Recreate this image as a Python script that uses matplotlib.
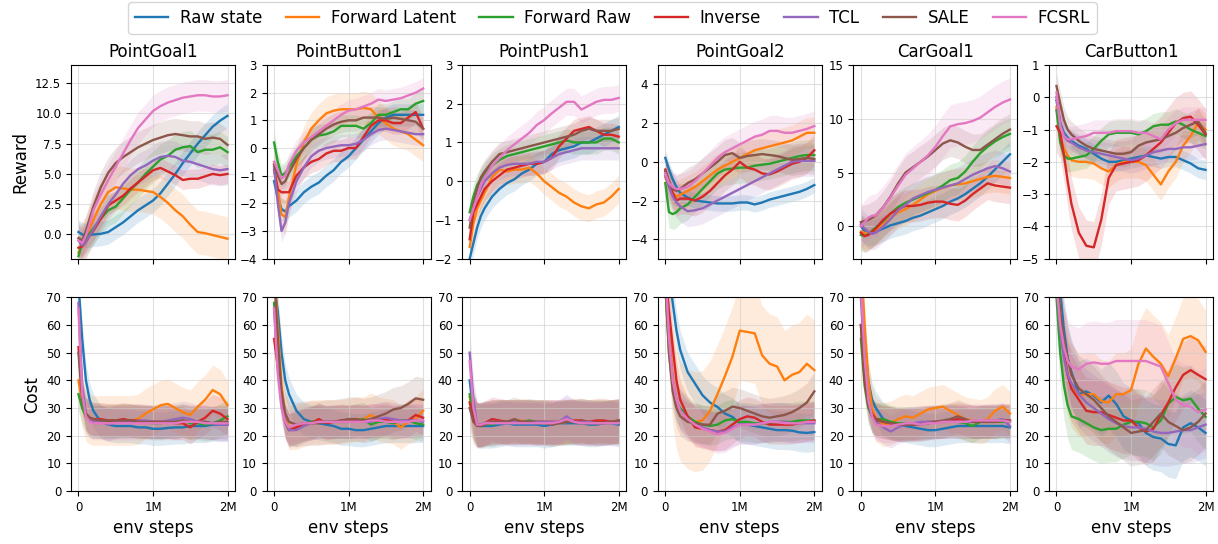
import numpy as np
import matplotlib
matplotlib.use("Agg")
import matplotlib.pyplot as plt

# env steps (in millions) at which the curves are sampled
steps = [0, .05, .1, .15, .2, .3, .4, .5, .6, .7, .8, .9, 1.0,
         1.1, 1.2, 1.3, 1.4, 1.5, 1.6, 1.7, 1.8, 1.9, 2.0]

methods = ['Raw state', 'Forward Latent', 'Forward Raw', 'Inverse', 'TCL', 'SALE', 'FCSRL']
colors = ['#1f77b4', '#ff7f0e', '#2ca02c', '#d62728', '#9467bd', '#8c564b', '#e377c2']
envs = ['PointGoal1', 'PointButton1', 'PointPush1', 'PointGoal2', 'CarGoal1', 'CarButton1']

# ---- reward curves (rows = methods in the order above) ----
reward_pointgoal1 = [
    [0.2, 0.0, -0.1, -0.05, 0.0, 0.05, 0.2, 0.6, 1.0, 1.5, 2.0, 2.4, 2.8, 3.4, 4.2, 5.0, 5.9, 6.7, 7.5, 8.2, 8.9, 9.4, 9.8],
    [-1.5, -0.8, -0.3, 0.5, 1.2, 2.5, 3.5, 3.9, 3.8, 3.7, 3.7, 3.6, 3.5, 3.1, 2.6, 2.0, 1.5, 0.8, 0.2, 0.1, -0.05, -0.2, -0.35],
    [-1.8, -0.7, -0.3, 0.1, 0.5, 1.3, 2.0, 2.3, 3.0, 3.7, 4.3, 5.0, 5.6, 6.2, 6.5, 7.0, 7.2, 7.3, 6.8, 7.0, 7.0, 7.2, 6.8],
    [-1.1, -1.0, -0.6, -0.1, 0.3, 1.3, 2.4, 2.8, 3.2, 3.8, 4.3, 4.8, 5.3, 5.5, 5.2, 4.9, 4.5, 4.6, 4.6, 4.8, 5.0, 4.9, 5.0],
    [-0.5, -0.9, -0.6, -0.1, 0.4, 1.5, 2.5, 3.3, 4.2, 4.9, 5.4, 5.7, 6.1, 6.4, 6.5, 6.4, 6.1, 6.0, 5.8, 5.6, 5.4, 5.3, 5.4],
    [-0.3, -0.5, 0.3, 1.3, 2.3, 3.9, 5.1, 5.9, 6.4, 6.8, 7.2, 7.5, 7.8, 8.0, 8.2, 8.3, 8.2, 8.1, 8.1, 7.9, 8.0, 7.9, 7.4],
    [-0.5, -0.7, -0.1, 0.9, 2.0, 3.3, 4.5, 5.6, 6.7, 7.8, 8.8, 9.5, 10.2, 10.6, 10.9, 11.1, 11.3, 11.4, 11.5, 11.5, 11.4, 11.4, 11.5],
]
reward_pointbutton1 = [
    [-1.2, -1.8, -2.2, -2.3, -2.1, -1.9, -1.6, -1.4, -1.25, -1.0, -0.8, -0.5, -0.3, 0.0, 0.3, 0.6, 0.9, 1.1, 1.2, 1.2, 1.2, 1.2, 1.2],
    [-0.6, -1.5, -2.4, -2.5, -1.8, -0.6, 0.2, 0.7, 1.0, 1.25, 1.35, 1.4, 1.4, 1.4, 1.45, 1.4, 1.1, 0.9, 0.7, 0.6, 0.5, 0.3, 0.1],
    [0.2, -0.5, -1.0, -0.9, -0.7, -0.3, 0.0, 0.3, 0.45, 0.5, 0.6, 0.8, 0.8, 0.8, 0.7, 0.9, 1.2, 1.2, 1.3, 1.4, 1.4, 1.6, 1.7],
    [-0.8, -1.5, -1.6, -1.6, -1.6, -1.0, -0.7, -0.5, -0.4, -0.2, -0.1, -0.1, 0.0, 0.0, 0.4, 0.8, 1.0, 1.0, 0.9, 0.9, 1.1, 1.3, 0.7],
    [-0.7, -2.0, -3.0, -2.7, -2.0, -1.2, -0.7, -0.3, -0.1, 0.0, 0.05, 0.1, 0.1, 0.15, 0.3, 0.5, 0.65, 0.7, 0.65, 0.6, 0.55, 0.5, 0.5],
    [-0.6, -1.0, -1.3, -1.2, -0.9, -0.4, 0.0, 0.3, 0.5, 0.7, 0.85, 0.95, 1.0, 1.0, 1.1, 1.1, 1.1, 1.05, 1.1, 1.05, 1.0, 0.95, 0.7],
    [-0.5, -0.8, -1.1, -1.0, -0.6, -0.1, 0.2, 0.4, 0.6, 0.8, 1.0, 1.2, 1.35, 1.4, 1.5, 1.6, 1.75, 1.7, 1.75, 1.8, 1.9, 2.0, 2.15],
]
reward_pointpush1 = [
    [-2.0, -1.6, -1.2, -0.9, -0.7, -0.4, -0.2, -0.05, 0.05, 0.2, 0.3, 0.45, 0.5, 0.7, 0.8, 0.85, 0.9, 1.0, 1.0, 1.1, 1.2, 1.3, 1.4],
    [-1.7, -1.1, -0.7, -0.5, -0.3, 0.1, 0.3, 0.25, 0.3, 0.3, 0.35, 0.2, 0.0, -0.15, -0.3, -0.4, -0.55, -0.65, -0.7, -0.6, -0.55, -0.4, -0.2],
    [-0.8, -0.4, -0.1, 0.05, 0.2, 0.4, 0.55, 0.65, 0.7, 0.75, 0.8, 0.85, 0.9, 0.95, 1.0, 1.05, 1.0, 1.0, 1.0, 1.0, 1.1, 1.1, 1.0],
    [-1.5, -0.8, -0.6, -0.4, -0.2, 0.0, 0.15, 0.3, 0.35, 0.4, 0.45, 0.45, 0.5, 0.6, 0.9, 1.1, 1.3, 1.35, 1.4, 1.3, 1.2, 1.2, 1.15],
    [-1.0, -0.7, -0.4, -0.2, 0.0, 0.2, 0.35, 0.42, 0.45, 0.45, 0.45, 0.5, 0.5, 0.6, 0.7, 0.75, 0.8, 0.85, 0.85, 0.85, 0.85, 0.85, 0.85],
    [-1.2, -0.6, -0.2, 0.1, 0.25, 0.5, 0.7, 0.75, 0.8, 0.85, 0.9, 0.95, 1.0, 1.05, 1.1, 1.15, 1.2, 1.3, 1.35, 1.3, 1.3, 1.3, 1.35],
    [-1.0, -0.7, -0.4, -0.1, 0.1, 0.4, 0.6, 0.8, 0.95, 1.1, 1.25, 1.45, 1.58, 1.75, 1.9, 2.05, 2.05, 1.85, 1.95, 2.05, 2.1, 2.1, 2.15],
]
reward_pointgoal2 = [
    [0.2, -0.4, -0.9, -1.3, -1.6, -1.85, -2.0, -2.05, -2.1, -2.15, -2.15, -2.15, -2.1, -2.1, -2.2, -2.1, -1.95, -1.85, -1.75, -1.65, -1.55, -1.4, -1.2],
    [-0.8, -1.3, -1.6, -1.8, -1.7, -1.5, -1.3, -1.0, -0.7, -0.4, -0.2, 0.0, 0.2, 0.4, 0.6, 0.7, 0.8, 0.9, 1.0, 1.1, 1.3, 1.5, 1.5],
    [-1.1, -2.6, -2.7, -2.6, -2.4, -2.2, -1.8, -1.4, -1.0, -0.6, -0.4, -0.35, -0.3, -0.3, -0.2, -0.15, -0.1, 0.0, 0.1, 0.2, 0.3, 0.35, 0.35],
    [-0.4, -1.0, -1.6, -2.0, -1.9, -1.9, -2.0, -1.8, -1.5, -1.1, -0.7, -0.4, 0.0, -0.3, -0.4, -0.6, -0.65, -0.5, -0.3, -0.1, 0.0, 0.2, 0.6],
    [-0.7, -1.3, -1.8, -2.1, -2.3, -2.55, -2.5, -2.4, -2.2, -2.0, -1.8, -1.6, -1.4, -1.2, -1.0, -0.8, -0.6, -0.4, -0.2, 0.0, 0.05, 0.05, 0.05],
    [-0.5, -1.0, -1.4, -1.5, -1.4, -1.1, -0.9, -0.6, -0.3, 0.0, 0.35, 0.45, 0.2, 0.3, 0.35, 0.4, 0.35, 0.3, 0.2, 0.1, 0.15, 0.2, 0.15],
    [-0.6, -1.1, -1.3, -1.4, -1.4, -1.3, -1.0, -0.6, -0.2, 0.2, 0.5, 0.7, 0.9, 1.1, 1.3, 1.4, 1.6, 1.6, 1.5, 1.5, 1.6, 1.7, 1.85],
]
reward_cargoal1 = [
    [0.0, -0.4, -0.6, -0.6, -0.5, -0.2, 0.1, 0.3, 0.5, 0.8, 1.0, 1.3, 1.6, 1.9, 2.3, 2.6, 3.0, 3.5, 4.0, 4.6, 5.3, 6.0, 6.7],
    [-0.5, -0.6, -0.6, -0.5, -0.3, 0.2, 0.8, 1.3, 1.6, 2.0, 2.5, 3.0, 3.3, 3.6, 3.8, 3.9, 4.0, 4.2, 4.4, 4.6, 4.7, 4.6, 4.5],
    [-0.8, -0.9, -0.7, -0.4, -0.1, 0.5, 1.2, 1.8, 2.2, 2.5, 2.8, 3.1, 3.4, 3.8, 4.3, 4.5, 5.1, 6.0, 6.8, 7.4, 7.9, 8.3, 8.6],
    [-0.6, -0.9, -0.8, -0.5, -0.2, 0.6, 1.2, 1.6, 1.9, 1.9, 2.0, 2.2, 2.3, 2.3, 2.1, 2.0, 2.4, 3.0, 3.5, 4.0, 3.8, 3.7, 3.6],
    [0.2, -0.2, -0.5, -0.7, -0.6, 0.0, 0.7, 1.5, 2.0, 2.6, 2.9, 3.2, 3.4, 3.6, 3.8, 4.0, 4.4, 4.8, 5.1, 5.4, 5.6, 5.4, 5.1],
    [0.4, 0.5, 0.6, 0.8, 1.0, 1.8, 2.8, 4.0, 5.0, 5.5, 6.0, 6.5, 7.1, 7.7, 8.0, 7.8, 7.4, 7.1, 7.1, 7.6, 8.1, 8.6, 9.0],
    [0.0, 0.4, 0.8, 1.0, 1.0, 1.8, 2.7, 3.8, 4.8, 5.4, 6.0, 6.6, 7.4, 8.4, 9.3, 9.5, 9.6, 9.8, 10.1, 10.6, 11.1, 11.5, 11.8],
]
reward_carbutton1 = [
    [-0.1, -0.8, -1.1, -1.25, -1.35, -1.5, -1.6, -1.75, -1.9, -2.0, -2.0, -1.95, -1.9, -1.85, -1.8, -1.85, -1.9, -1.85, -1.85, -1.95, -2.05, -2.2, -2.25],
    [-0.3, -1.2, -1.6, -1.8, -1.95, -2.0, -2.0, -2.05, -2.2, -2.3, -2.1, -2.0, -2.0, -2.0, -2.1, -2.4, -2.7, -2.3, -2.0, -1.5, -1.2, -0.8, -1.0],
    [-0.4, -1.4, -1.8, -1.9, -1.9, -1.85, -1.8, -1.6, -1.35, -1.15, -1.1, -1.1, -1.1, -1.15, -1.05, -0.9, -0.85, -0.85, -0.75, -0.85, -1.0, -1.1, -1.2],
    [-0.9, -1.1, -1.8, -2.6, -3.3, -4.2, -4.6, -4.65, -3.8, -2.5, -2.1, -2.05, -2.0, -1.95, -1.8, -1.6, -1.4, -1.1, -0.8, -0.65, -0.6, -0.85, -1.15],
    [0.0, -0.8, -1.2, -1.35, -1.4, -1.55, -1.65, -1.7, -1.75, -1.8, -1.85, -1.9, -1.95, -1.9, -1.8, -1.7, -1.65, -1.6, -1.6, -1.55, -1.55, -1.5, -1.45],
    [0.35, -0.2, -0.7, -1.0, -1.15, -1.35, -1.5, -1.6, -1.65, -1.7, -1.75, -1.75, -1.7, -1.5, -1.4, -1.35, -1.3, -1.2, -1.1, -0.95, -0.85, -0.75, -1.1],
    [0.15, -0.9, -1.2, -1.3, -1.3, -1.25, -1.2, -1.1, -1.1, -1.1, -1.05, -1.05, -1.05, -1.1, -1.1, -1.2, -1.3, -1.0, -0.8, -0.7, -0.7, -0.7, -0.7],
]

# ---- cost curves ----
cost_pointgoal1 = [
    [75, 55, 40, 33, 29, 25, 24, 23.5, 23.5, 23.5, 23, 23, 22.5, 22.5, 22.8, 23, 23, 23.5, 23.5, 23.5, 24, 24, 24],
    [40, 32, 27, 26, 25.5, 25.5, 25.5, 25.5, 25.5, 25.5, 26, 28, 29.5, 31, 31.5, 30, 28.5, 27.5, 30.5, 33, 36.5, 35, 31],
    [35, 30, 27, 25.5, 25, 25, 25, 25, 25.5, 25.5, 25, 25, 24.5, 24.5, 25, 25, 25.5, 24.5, 24.5, 24, 24.5, 25.5, 27],
    [52, 35, 28, 26.5, 26, 26, 25.5, 25.5, 26, 25.5, 25.5, 25, 25, 25, 25, 24.5, 24.5, 23, 25, 26.5, 29, 28, 26],
    [68, 38, 28, 25.5, 25, 25, 24, 25, 25, 25, 25.5, 25.5, 25, 25, 25.5, 26, 26.5, 26, 25, 25, 24.5, 24, 24],
    [50, 33, 28, 26.5, 26, 25.5, 25.5, 25.5, 25.5, 25.5, 25, 25, 25, 25, 25, 25, 25.5, 25, 25, 25, 24.5, 25, 25],
    [66, 35, 27, 25, 24.5, 24.5, 24.5, 24.5, 24.5, 24.5, 24.5, 24.5, 24.5, 24.5, 24.5, 24.5, 25, 25, 25, 24.5, 24.5, 24.5, 24.5],
]
cost_pointbutton1 = [
    [75, 65, 50, 40, 35, 29, 26, 25, 24.5, 24, 23.5, 22.5, 22.5, 22, 22, 22.5, 23, 23.5, 23.5, 23.5, 23.5, 23.5, 23.5],
    [80, 60, 38, 27, 23, 23, 24, 25, 25, 25, 25, 25, 25.5, 26, 26, 27.5, 26, 25.5, 25, 23, 25, 26, 29],
    [68, 50, 33, 25, 22, 23, 24, 25, 25.5, 25, 25, 25, 25, 25.5, 26, 24, 25, 25, 24.5, 25.5, 25.5, 24.5, 24],
    [55, 45, 32, 25, 22, 23, 24, 24.5, 26, 24.5, 25, 25.5, 25, 25.5, 25, 25.5, 25.5, 26, 25, 25, 25.5, 27.5, 26.5],
    [66, 45, 32, 25, 22, 22, 23.5, 24.5, 25, 25, 25, 25, 25, 25, 25, 25, 26, 26.5, 26, 25.5, 25.5, 25.5, 25],
    [80, 55, 36, 28, 25, 24, 24.5, 24.5, 24.5, 25, 25, 25.5, 26, 26, 25.5, 26, 27, 28, 29.5, 30, 31.5, 33.5, 33],
    [66, 42, 30, 25, 23, 24, 24.5, 24.5, 25, 25, 25, 25, 25, 25, 25, 25.5, 25.5, 25, 25, 25, 25, 25.5, 25.5],
]
cost_pointpush1 = [
    [40, 28, 24, 23.5, 23.5, 23.5, 24, 24.5, 24, 24, 24, 24, 23.5, 24, 24.5, 24.5, 24.5, 24.5, 24, 24, 24.5, 24.5, 24],
    [34, 27, 24, 24, 24, 25, 25, 25, 25, 25.5, 25, 25, 25, 25, 24.5, 25, 25, 25, 25, 25, 25, 25, 25],
    [35, 27, 24, 24, 24.5, 24, 25, 25, 25, 25, 25.5, 25, 25, 24.5, 25, 25, 25, 25.5, 25, 25, 25, 25, 25],
    [32, 26, 24, 24, 24.5, 26, 25.5, 25, 25, 25, 25, 25, 25, 25, 25, 25, 25.5, 25.5, 25, 25.5, 25.5, 25, 25.5],
    [50, 33, 24, 24, 24.5, 25, 25, 25, 25, 25, 25, 25, 25, 25, 25, 27, 25, 25, 25, 24.5, 24.5, 25, 25],
    [30, 25, 23.5, 23.5, 24, 25, 25, 25, 26, 25, 25, 24.5, 24.5, 24, 24.5, 25, 25, 24.5, 24.5, 24.5, 24.5, 25, 25.5],
    [47, 30, 24, 24, 24.5, 24.5, 24.5, 24.5, 24.5, 24.5, 24.5, 24.5, 24.5, 24.5, 25, 26, 25, 24.5, 24.5, 24.5, 24.5, 24.5, 24.5],
]
cost_pointgoal2 = [
    [85, 78, 68, 58, 51, 43, 38.8, 34.6, 32, 30.4, 28, 26.8, 24.5, 24, 23.5, 23, 22.5, 22, 22, 21.8, 21.2, 21, 21.3],
    [85, 60, 42, 33, 29, 26, 25, 25.5, 29, 35, 41.5, 48.5, 58, 57.5, 57, 49, 46, 45, 40, 42, 43, 46, 43.7],
    [75, 50, 38, 32, 30, 27, 25, 24, 23.5, 24, 25.5, 26, 25, 25, 24.5, 24.5, 24.5, 25, 25, 25, 25.5, 25.5, 25.5],
    [80, 65, 52, 40, 33, 27, 23, 22.5, 22, 21.5, 22, 24, 26, 27, 26.5, 25, 24, 24, 24, 24, 24.5, 25, 25.5],
    [80, 55, 40, 33, 29, 26, 24, 23, 22, 21.5, 21.5, 23, 24, 24, 24, 24.5, 25, 25, 25, 24.5, 24.5, 24.5, 24.5],
    [75, 50, 36, 30, 27, 25, 24.5, 24, 24, 28, 29, 30.5, 30, 29, 28, 27, 26.5, 27, 27.5, 28.5, 30, 32, 36],
    [80, 55, 40, 33, 29, 26, 24, 22.5, 21.5, 20.5, 21, 22.5, 24, 24, 24, 24.5, 25, 25, 24.5, 24.5, 24.5, 25, 25],
]
cost_cargoal1 = [
    [80, 55, 40, 33, 30, 26, 24.5, 24, 23.5, 23, 22.5, 22, 22, 22.5, 23, 23.5, 23.5, 23.5, 23.5, 23.5, 23.5, 23.5, 23],
    [85, 60, 40, 30, 26, 24, 24.5, 26, 27, 26.5, 28, 29.5, 30, 30.5, 29, 27.5, 26, 25.5, 25, 26, 29, 30.5, 28],
    [55, 38, 30, 27, 26, 26, 25, 24.5, 24.5, 24.5, 24.5, 24.5, 25, 25, 25.5, 25, 24.5, 23.5, 25, 25, 25, 25, 25],
    [60, 40, 31, 28, 26, 25, 24.5, 24, 24, 24, 24.5, 25, 25, 25, 25.5, 26, 25.5, 25, 25, 25, 25, 25.5, 25.5],
    [70, 45, 32, 27, 25, 23, 21.5, 23, 24, 24.5, 25, 25, 25, 25, 25, 25, 25, 25, 25, 25.5, 25.5, 26, 23.5],
    [60, 42, 32, 27, 25.5, 25, 24.5, 24, 24, 24, 24, 24.5, 25, 25.5, 26, 27, 26, 25, 25, 25, 25, 25.5, 25.5],
    [75, 48, 33, 27, 24, 23.5, 23.5, 24, 24.5, 24.5, 24, 24.5, 24.5, 25, 25, 25, 25, 25.5, 25.5, 25.5, 25.5, 25.5, 25],
]
cost_carbutton1 = [
    [85, 72, 58, 48, 43, 35, 36, 34.5, 32, 34.5, 31.5, 27, 25.5, 24.5, 21, 19.5, 19, 17, 16.5, 23, 24.5, 23, 21],
    [80, 65, 50, 42, 38, 34.5, 35, 35, 32.5, 32, 35, 35, 36.5, 46, 51.5, 48.5, 46, 41.5, 48, 55, 56, 54.5, 50.3],
    [70, 50, 38, 31, 27, 26, 24.5, 23, 22, 22.5, 22.5, 24, 25, 25, 24.5, 23, 25.5, 31.5, 34, 32.8, 33.4, 29.8, 26.8],
    [75, 62, 50, 42, 37, 33, 29, 28.5, 28.5, 27.5, 26.5, 25.5, 25.5, 23, 21.5, 22.5, 27.5, 32, 37.5, 42, 43.7, 42, 40.4],
    [75, 58, 48, 42, 39, 35, 32, 30, 28, 26, 24.5, 23.5, 23, 23, 22.5, 21.5, 21, 21, 21.5, 22, 22, 23, 24],
    [80, 65, 55, 48, 42, 37, 35, 33, 30, 27, 25, 23, 21, 21.5, 22, 25, 28, 25, 23.5, 22, 23, 25, 28],
    [75, 60, 52, 47, 45, 44, 46, 46.5, 46, 46, 47, 47, 47, 47, 47, 46, 45, 39, 33, 31, 30.5, 28.5, 29.5],
]

# std over seeds (one value per method)
reward_std = [
    [1.0, 1.8, 1.3, 0.8, 1.3, 1.3, 1.3],
    [0.4, 0.6, 0.4, 0.4, 0.4, 0.4, 0.4],
    [0.3, 0.35, 0.3, 0.3, 0.3, 0.3, 0.35],
    [0.4, 0.8, 0.8, 0.8, 0.8, 0.8, 0.8],
    [1.2, 1.5, 1.5, 1.5, 1.5, 1.5, 2.0],
    [0.3, 0.5, 0.4, 0.8, 0.4, 0.4, 0.4],
]
cost_std = [
    [6, 9, 6, 6, 6, 6, 6],
    [6, 8, 6, 6, 6, 8, 6],
    [8, 8, 8, 8, 8, 8, 8],
    [7, 18, 7, 7, 7, 7, 7],
    [6, 8, 6, 6, 6, 6, 6],
    [12, 15, 12, 12, 12, 12, 15],
]

reward_data = [reward_pointgoal1, reward_pointbutton1, reward_pointpush1,
               reward_pointgoal2, reward_cargoal1, reward_carbutton1]
cost_data = [cost_pointgoal1, cost_pointbutton1, cost_pointpush1,
             cost_pointgoal2, cost_cargoal1, cost_carbutton1]

reward_ylims = [(-2, 14), (-4, 3), (-2, 3), (-5, 5), (-3, 15), (-5, 1)]
reward_yticks = [[0, 2.5, 5, 7.5, 10, 12.5], [-4, -3, -2, -1, 0, 1, 2, 3],
                 [-2, -1, 0, 1, 2, 3], [-4, -2, 0, 2, 4], [0, 5, 10, 15],
                 [-5, -4, -3, -2, -1, 0, 1]]

fig, axes = plt.subplots(2, 6, figsize=(12.18, 5.44), dpi=100)
fig.subplots_adjust(left=0.0583, right=0.9959, top=0.8805, bottom=0.0974,
                    wspace=0.193, hspace=0.2)

x = np.array(steps)
for col in range(6):
    for row, data, stds in [(0, reward_data[col], reward_std[col]),
                            (1, cost_data[col], cost_std[col])]:
        ax = axes[row, col]
        for k in range(7):
            y = np.array(data[k], dtype=float)
            ax.fill_between(x, y - stds[k], y + stds[k], color=colors[k],
                            alpha=0.15, linewidth=0)
            ax.plot(x, y, color=colors[k], lw=1.7, label=methods[k])
        ax.grid(True, color='#cccccc', alpha=0.6, lw=0.8)
        ax.set_xticks([0, 1, 2])
        ax.tick_params(labelsize=8.5)
        if row == 0:
            ax.set_ylim(*reward_ylims[col])
            ax.set_yticks(reward_yticks[col])
            if col == 0:
                ax.set_yticklabels(['0.0', '2.5', '5.0', '7.5', '10.0', '12.5'])
            ax.set_xticklabels([])
            ax.set_title(envs[col], fontsize=12)
        else:
            ax.set_ylim(0, 70)
            ax.set_yticks(range(0, 71, 10))
            ax.set_xticklabels(['0', '1M', '2M'])
            ax.set_xlabel('env steps', fontsize=12)

axes[0, 0].set_ylabel('Reward', fontsize=12)
axes[1, 0].set_ylabel('Cost', fontsize=12)

handles, labels = axes[0, 0].get_legend_handles_labels()
fig.legend(handles, labels, loc='upper center', ncol=7, fontsize=12,
           bbox_to_anchor=(0.503, 1.005), frameon=True, borderaxespad=0.3,
           columnspacing=1.4, handletextpad=0.7)

fig.savefig('out.png', dpi=100)
